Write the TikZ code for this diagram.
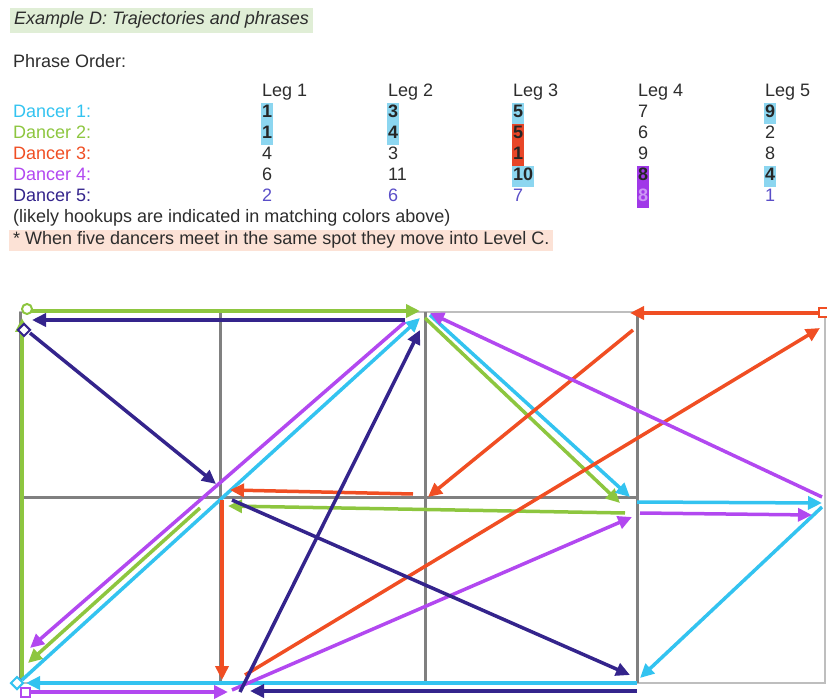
\documentclass[tikz,border=0pt]{standalone}
\usepackage{fontspec}
\setmainfont{Liberation Sans}
\usepackage{tikz}
\usetikzlibrary{positioning,shapes.geometric,arrows.meta,calc}
\definecolor{skyblue}{RGB}{51,195,240}
\definecolor{leafgreen}{RGB}{141,198,63}
\definecolor{signalred}{RGB}{240,78,35}
\definecolor{lilac}{RGB}{178,72,240}
\definecolor{deepblue}{RGB}{52,36,140}
\definecolor{gridgray}{RGB}{128,128,128}
\definecolor{framegray}{RGB}{190,190,190}
\definecolor{mintbg}{RGB}{224,238,214}
\definecolor{peachbg}{RGB}{252,226,214}
\definecolor{hlblue}{RGB}{140,214,240}
\definecolor{hlred}{RGB}{232,70,40}
\definecolor{hlpurple}{RGB}{160,56,232}
\definecolor{numgray}{RGB}{45,45,45}
\definecolor{numblue}{RGB}{90,78,200}
\definecolor{palepurple}{RGB}{205,150,245}
\newcommand{\txtsize}{\fontsize{18}{21}\selectfont}

\begin{document}
\begin{tikzpicture}[
  x=1pt, y=-1pt,
  every node/.style={font=\txtsize, inner sep=0pt, anchor=base west, text=numgray},
  num/.style={text height=15pt, text depth=6pt},
  hl/.style={fill=#1, font=\txtsize\bfseries, text height=15pt, text depth=6pt, inner xsep=1pt, text=black!85},
  grid/.style={draw=gridgray, line width=3pt},
  frame/.style={draw=framegray, line width=2pt},
  trail/.style={-{Triangle[length=14pt,width=13pt]}, line width=3.5pt},
  startdot/.style={circle, anchor=center, minimum size=10pt, line width=2pt, fill=white},
  startdia/.style={diamond, anchor=center, minimum size=13pt, line width=2pt, fill=white},
  startsq/.style={rectangle, anchor=center, minimum size=9pt, line width=2pt, fill=white}
]
  \useasboundingbox (0,0) rectangle (827,700);

  % header and phrase table
  \node[fill=mintbg, inner xsep=4pt, inner ysep=4pt, font=\txtsize\itshape] (title) at (10,25) {Example D: Trajectories and phrases};
  \node (order) at (13,68) {Phrase Order:};
  \foreach \i/\x in {1/262,2/388,3/513,4/638,5/765}
    \node (leg\i) at (\x,97) {Leg \i};
  \foreach \i/\c in {1/skyblue,2/leafgreen,3/signalred,4/lilac,5/deepblue}
    \node[text=\c] (dancer\i) at (13,{97+21*\i}) {Dancer \i:};

  \node[hl=hlblue] (n11) at (261,118) {1};
  \node[hl=hlblue] (n12) at (387,118) {3};
  \node[hl=hlblue] (n13) at (512,118) {5};
  \node[num] (n14) at (638,118) {7};
  \node[hl=hlblue] (n15) at (764,118) {9};

  \node[hl=hlblue] (n21) at (261,139) {1};
  \node[hl=hlblue] (n22) at (387,139) {4};
  \node[hl=hlred] (n23) at (512,139) {5};
  \node[num] (n24) at (638,139) {6};
  \node[num] (n25) at (765,139) {2};

  \node[num] (n31) at (262,160) {4};
  \node[num] (n32) at (388,160) {3};
  \node[hl=hlred] (n33) at (512,160) {1};
  \node[num] (n34) at (638,160) {9};
  \node[num] (n35) at (765,160) {8};

  \node[num] (n41) at (262,181) {6};
  \node[num] (n42) at (388,181) {11};
  \node[hl=hlblue] (n43) at (512,181) {10};
  \node[hl=hlpurple] (n44) at (637,181) {8};
  \node[hl=hlblue] (n45) at (764,181) {4};

  \node[num, text=numblue] (n51) at (262,202) {2};
  \node[num, text=numblue] (n52) at (388,202) {6};
  \node[num, text=numblue] (n53) at (513,202) {7};
  \node[hl=hlpurple, text=palepurple] (n54) at (637,202) {8};
  \node[num, text=numblue] (n55) at (765,202) {1};

  \node (note) at (13,223) {(likely hookups are indicated in matching colors above)};
  \node[fill=peachbg, inner xsep=4pt, inner ysep=2pt] (rule) at (9,245) {* When five dancers meet in the same spot they move into Level C.};

  % floor grid
  \coordinate (A) at (20,312);  \coordinate (T) at (220,312);
  \coordinate (B) at (425,312); \coordinate (C) at (637,312);
  \coordinate (D) at (825,312);
  \coordinate (E) at (20,497);  \coordinate (F) at (220,497);
  \coordinate (G) at (425,497); \coordinate (H) at (637,497);
  \coordinate (I) at (825,500);
  \coordinate (J) at (20,683);  \coordinate (K) at (220,683);
  \coordinate (L) at (425,683); \coordinate (M) at (637,683);
  \coordinate (N) at (825,683);

  \draw[frame] (A) rectangle (N);
  \draw[grid] (E) -- (H);
  \foreach \p/\q in {A/J,T/K,B/L,C/M} \draw[grid] (\p) -- (\q);

  % dancer 2
  \draw[trail, leafgreen] ($(A)+(10,-1)$) -- ($(B)+(-5,-1)$);
  \draw[trail, leafgreen] ($(B)+(0,6)$) -- ($(H)+(-17,6)$);
  \draw[trail, leafgreen] ($(H)+(-12,16)$) -- ($(F)+(8,9)$);
  \draw[trail, leafgreen] ($(F)+(-20,11)$) -- ($(J)+(8,-20)$);
  \draw[trail, leafgreen] ($(J)+(2,-5)$) -- ($(A)+(2,6)$);
  % dancer 1
  \draw[trail, skyblue] ($(J)+(2,-3)$) -- ($(B)+(-5,6)$);
  \draw[trail, skyblue] ($(B)+(5,3)$) -- ($(H)+(-7,0)$);
  \draw[trail, skyblue] ($(H)+(0,5)$) -- ($(I)+(-3,3)$);
  \draw[trail, skyblue] ($(I)+(-3,7)$) -- ($(M)+(3,-5)$);
  \draw[trail, skyblue] (M) -- ($(J)+(6,0)$);
  % dancer 3
  \draw[trail, signalred] ($(D)+(-2,1)$) -- ($(C)+(-7,1)$);
  \draw[trail, signalred] ($(C)+(-4,18)$) -- ($(G)+(3,0)$);
  \draw[trail, signalred] ($(G)+(-12,-3)$) -- ($(F)+(10,-7)$);
  \draw[trail, signalred] ($(F)+(2,3)$) -- ($(K)+(2,-3)$);
  \draw[trail, signalred] ($(K)+(25,-8)$) -- ($(D)+(-5,16)$);
  % dancer 4
  \draw[trail, lilac] ($(J)+(8,9)$) -- ($(K)+(8,9)$);
  \draw[trail, lilac] ($(K)+(12,7)$) -- ($(H)+(-5,20)$);
  \draw[trail, lilac] ($(H)+(3,16)$) -- ($(I)+(-13,15)$);
  \draw[trail, lilac] ($(I)+(-3,-3)$) -- ($(B)+(5,1)$);
  \draw[trail, lilac] ($(B)+(-20,10)$) -- ($(J)+(10,-35)$);
  % dancer 5
  \draw[trail, deepblue] ($(A)+(10,21)$) -- ($(F)+(-4,-13)$);
  \draw[trail, deepblue] ($(F)+(12,3)$) -- ($(M)+(-7,-8)$);
  \draw[trail, deepblue] ($(M)+(0,8)$) -- ($(K)+(30,8)$);
  \draw[trail, deepblue] ($(K)+(20,9)$) -- ($(B)+(-5,18)$);
  \draw[trail, deepblue] ($(B)+(-20,8)$) -- ($(A)+(12,8)$);

  % starting spots
  \node[startdot, draw=leafgreen] (start2) at ($(A)+(7,-3)$) {};
  \node[startdia, draw=deepblue] (start5) at ($(A)+(4,18)$) {};
  \node[startsq, draw=signalred] (start3) at ($(D)+(-2,1)$) {};
  \node[startdia, draw=skyblue] (start1) at ($(J)+(-3,0)$) {};
  \node[startsq, draw=lilac] (start4) at ($(J)+(5,9)$) {};
\end{tikzpicture}
\end{document}
